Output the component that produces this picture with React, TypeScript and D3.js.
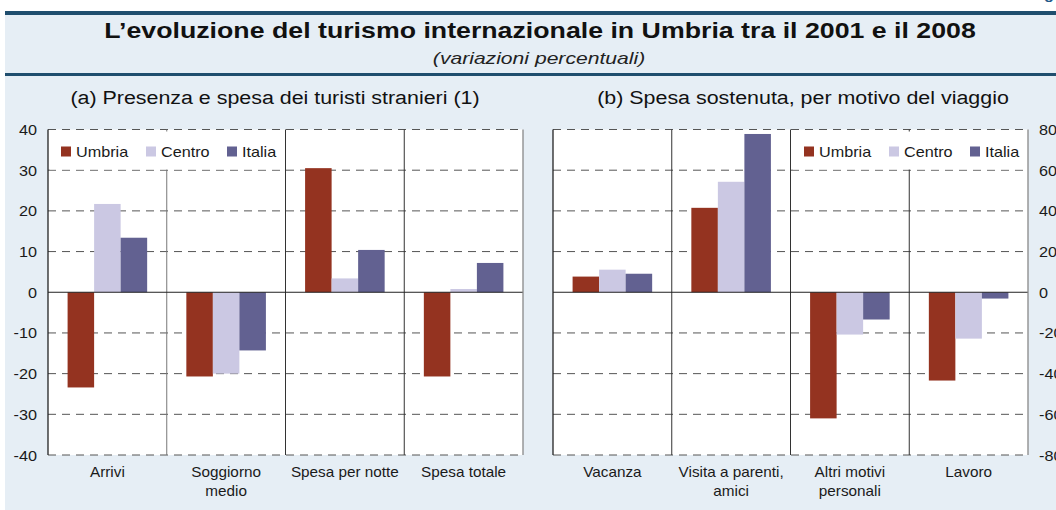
import { scaleBand, scaleLinear } from "d3";
import { FC, ReactNode } from "react";

// panel (a)
const categoriesA = [["Arrivi"], ["Soggiorno", "medio"], ["Spesa per notte"], ["Spesa totale"]];
const umbriaA = [-23.4, -20.7, 30.5, -20.7];
const centroA = [21.7, -20.0, 3.4, 0.8];
const italiaA = [13.4, -14.3, 10.4, 7.2];
const ticksA = [-40, -30, -20, -10, 0, 10, 20, 30, 40];

// panel (b)
const categoriesB = [["Vacanza"], ["Visita a parenti,", "amici"], ["Altri motivi", "personali"], ["Lavoro"]];
const umbriaB = [7.7, 41.5, -62.0, -43.4];
const centroB = [11.1, 54.3, -20.8, -22.8];
const italiaB = [9.1, 77.8, -13.4, -3.1];
const ticksB = [-80, -60, -40, -20, 0, 20, 40, 60, 80];

const seriesNames = ["Umbria", "Centro", "Italia"];
const colors = ["#943320", "#cbc8e3", "#626191"];

const W = 1056;
const H = 510;
const FONT = "'Liberation Sans', Arial, sans-serif";
const TOP = 129.5;
const BOTTOM = 455;

// text a bit wider than the font (the original is stretched horizontally)
const SText: FC<{
  x: number;
  y: number;
  size: number;
  sx?: number;
  anchor?: "start" | "middle" | "end";
  weight?: string;
  italic?: boolean;
  fill?: string;
  children: ReactNode;
}> = ({ x, y, size, sx = 1.08, anchor = "start", weight, italic, fill = "#1a1a1a", children }) => (
  <text
    transform={`translate(${x},${y}) scale(${sx},1)`}
    textAnchor={anchor}
    fontSize={size}
    fontWeight={weight}
    fontStyle={italic ? "italic" : undefined}
    fill={fill}
    fontFamily={FONT}
  >
    {children}
  </text>
);

type PanelProps = {
  x0: number;
  x1: number;
  categories: string[][];
  series: number[][];
  ticks: number[];
  axisSide: "left" | "right";
  legendX: number;
  legendW: number;
};

const legendOffsets = [11, 96, 177];

const Panel: FC<PanelProps> = ({ x0, x1, categories, series, ticks, axisSide, legendX, legendW }) => {
  const keys = categories.map((c) => c.join(" "));
  const x = scaleBand().domain(keys).range([x0, x1]).paddingInner(0.33).paddingOuter(0.165);
  const step = x.step();
  const xs = scaleBand().domain(seriesNames).range([0, x.bandwidth()]);
  const y = scaleLinear()
    .domain([ticks[0], ticks[ticks.length - 1]])
    .range([BOTTOM, TOP]);

  return (
    <g>
      <rect x={x0} y={TOP} width={x1 - x0} height={BOTTOM - TOP} fill="#fff" />
      {/* grid */}
      {ticks
        .filter((t) => t !== 0)
        .map((t) => (
          <line
            key={t}
            x1={x0}
            x2={x1}
            y1={y(t)}
            y2={y(t)}
            stroke="#555"
            strokeWidth={1}
            strokeDasharray="8,6"
          />
        ))}
      {/* separators */}
      {keys.slice(1).map((k, i) => (
        <line
          key={k}
          x1={x0 + (i + 1) * step}
          x2={x0 + (i + 1) * step}
          y1={TOP}
          y2={BOTTOM}
          stroke={i === 0 && axisSide === "left" ? "#777" : "#333"}
          strokeWidth={1}
        />
      ))}
      {/* bars */}
      {series.map((vals, si) =>
        vals.map((v, ci) => (
          <rect
            key={si + "-" + ci}
            x={x(keys[ci])! + xs(seriesNames[si])!}
            y={y(Math.max(0, v))}
            width={xs.bandwidth()}
            height={Math.abs(y(v) - y(0))}
            fill={colors[si]}
          />
        ))
      )}
      <line x1={x0} x2={x1} y1={y(0)} y2={y(0)} stroke="#222" strokeWidth={1} />
      <line x1={x0} x2={x0} y1={TOP} y2={BOTTOM} stroke="#222" strokeWidth={1.3} />
      <line x1={x1} x2={x1} y1={TOP} y2={BOTTOM} stroke="#888" strokeWidth={1.3} />
      {/* legend */}
      <rect x={legendX} y={TOP + 2} width={legendW} height={38} fill="#fff" />
      {seriesNames.map((s, i) => {
        const lx = legendX + legendOffsets[i];
        return (
          <g key={s}>
            <rect x={lx} y={146.5} width={10} height={10} fill={colors[i]} />
            <SText x={lx + 15} y={157} size={15}>
              {s}
            </SText>
          </g>
        );
      })}
      {/* tick labels */}
      {ticks.map((t) => (
        <SText
          key={t}
          x={axisSide === "left" ? x0 - 11 : x1 + 11}
          y={y(t) + 5.5}
          anchor={axisSide === "left" ? "end" : "start"}
          size={15}
        >
          {t}
        </SText>
      ))}
      {/* category labels */}
      {categories.map((lines, ci) =>
        lines.map((l, li) => (
          <SText
            key={keys[ci] + li}
            x={x(keys[ci])! + x.bandwidth() / 2}
            y={477 + li * 19}
            anchor="middle"
            size={15}
            sx={1.02}
          >
            {l}
          </SText>
        ))
      )}
    </g>
  );
};

const App: FC = () => {
  return (
    <svg
      width={W}
      height={H}
      style={{ position: "absolute", left: 0, top: 0, display: "block" }}
    >
      <rect x={0} y={0} width={W} height={H} fill="#fff" />
      <rect x={5} y={12} width={W - 5} height={H - 12} fill="#e6eef5" />
      <rect x={5} y={11} width={W - 5} height={4} fill="#1f4e6e" />
      <rect x={5} y={73} width={W - 5} height={3} fill="#1f4e6e" />
      <SText x={1054} y={-1} anchor="end" size={15} weight="bold" fill="#1f5a8a">
        Fig
      </SText>
      <SText x={540} y={38} anchor="middle" size={22} sx={1.215} weight="bold" fill="#111">
        L’evoluzione del turismo internazionale in Umbria tra il 2001 e il 2008
      </SText>
      <SText x={539} y={64} anchor="middle" size={16.5} sx={1.28} italic fill="#222">
        (variazioni percentuali)
      </SText>
      <SText x={275} y={104} anchor="middle" size={18} sx={1.19} fill="#111">
        (a) Presenza e spesa dei turisti stranieri (1)
      </SText>
      <SText x={803} y={104} anchor="middle" size={18} sx={1.19} fill="#111">
        (b) Spesa sostenuta, per motivo del viaggio
      </SText>
      <Panel
        x0={48}
        x1={523}
        categories={categoriesA}
        series={[umbriaA, centroA, italiaA]}
        ticks={ticksA}
        axisSide="left"
        legendX={50}
        legendW={232}
      />
      <Panel
        x0={553}
        x1={1028}
        categories={categoriesB}
        series={[umbriaB, centroB, italiaB]}
        ticks={ticksB}
        axisSide="right"
        legendX={793}
        legendW={232}
      />
    </svg>
  );
};

export default App;
